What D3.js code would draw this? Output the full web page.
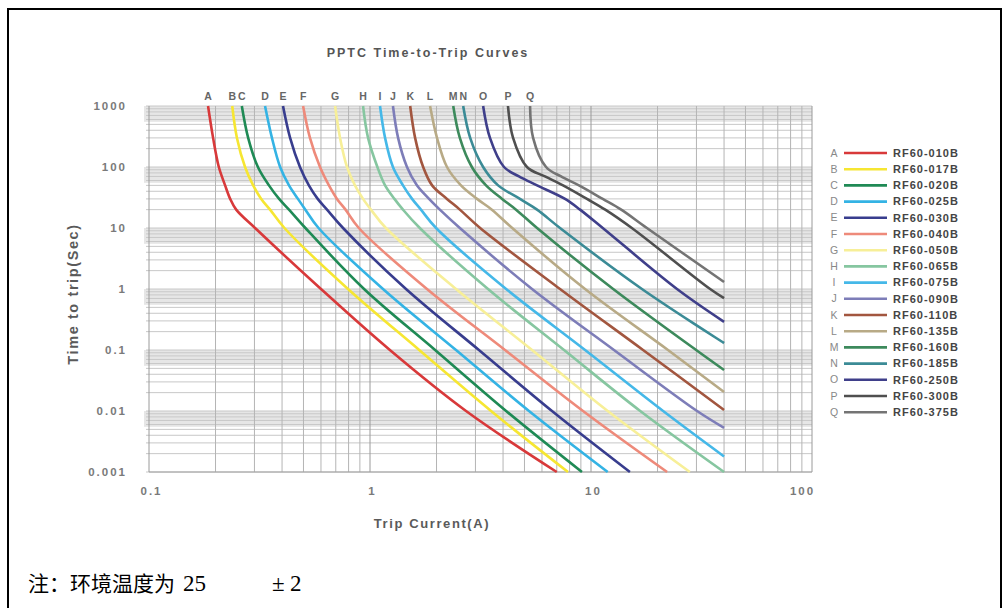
<!DOCTYPE html>
<html>
<head>
<meta charset="utf-8">
<script src="https://cdn.jsdelivr.net/npm/d3@7"></script>
<style>
  body { margin: 0; background: #fff; }
  svg text { font-family: "Liberation Sans", Arial, sans-serif; }
</style>
</head>
<body>
<div class="canvas"></div>
<script>
const svgWidth = 1005;
const svgHeight = 608;

// curve data: [current (A), time to trip (s)]
const curveA = [[0.185,1000],[0.195,300],[0.207,100],[0.221,50],[0.233,30],[0.248,20],[0.302,10],[0.60,1],[1.23,0.1],[2.72,0.01],[7.0,0.001]];
const curveB = [[0.238,1000],[0.25,300],[0.272,100],[0.296,50],[0.322,30],[0.353,20],[0.41,10],[0.795,1],[1.67,0.1],[3.53,0.01],[7.87,0.001]];
const curveC = [[0.263,1000],[0.281,300],[0.311,100],[0.349,50],[0.388,30],[0.43,20],[0.51,10],[0.94,1],[1.97,0.1],[4.13,0.01],[9.1,0.001]];
const curveD = [[0.335,1000],[0.36,300],[0.392,100],[0.43,50],[0.472,30],[0.51,20],[0.585,10],[1.145,1],[2.45,0.1],[5.24,0.01],[11.9,0.001]];
const curveE = [[0.404,1000],[0.435,300],[0.482,100],[0.529,50],[0.58,30],[0.639,20],[0.755,10],[1.455,1],[3.11,0.1],[6.66,0.01],[15.0,0.001]];
const curveF = [[0.498,1000],[0.535,300],[0.594,100],[0.652,50],[0.709,30],[0.775,20],[0.89,10],[1.81,1],[4.08,0.1],[9.2,0.01],[22.1,0.001]];
const curveG = [[0.695,1000],[0.732,300],[0.787,100],[0.855,50],[0.93,30],[1.01,20],[1.18,10],[2.45,1],[5.41,0.1],[11.9,0.01],[28.0,0.001]];
const curveH = [[0.93,1000],[0.98,300],[1.08,100],[1.17,50],[1.29,30],[1.41,20],[1.68,10],[3.42,1],[7.55,0.1],[16.7,0.01],[40,0.001]];
const curveI = [[1.11,1000],[1.17,300],[1.27,100],[1.41,50],[1.55,30],[1.7,20],[1.99,10],[4.13,1],[9.4,0.1],[21.2,0.01],[40,0.0018]];
const curveJ = [[1.27,1000],[1.34,300],[1.47,100],[1.63,50],[1.85,30],[2.07,20],[2.55,10],[5.41,1],[12.7,0.1],[30.2,0.01],[40,0.0053]];
const curveK = [[1.52,1000],[1.6,300],[1.74,100],[1.91,50],[2.23,30],[2.55,20],[3.15,10],[7.24,1],[17.2,0.1],[40,0.0104]];
const curveL = [[1.87,1000],[2.01,300],[2.23,100],[2.58,50],[3.05,30],[3.56,20],[4.4,10],[9.4,1],[22.3,0.1],[40,0.0205]];
const curveM = [[2.38,1000],[2.55,300],[2.89,100],[3.35,50],[3.96,30],[4.58,20],[5.7,10],[12.6,1],[29.9,0.1],[40,0.047]];
const curveN = [[2.64,1000],[2.84,300],[3.25,100],[3.8,50],[4.77,30],[5.7,20],[7.24,10],[17.0,1],[40,0.13]];
const curveO = [[3.25,1000],[3.49,300],[4.04,100],[4.72,70],[5.7,50],[7.63,30],[8.92,20],[11.3,10],[24.5,1],[40,0.29]];
const curveP = [[4.21,1000],[4.44,300],[5.13,100],[6.19,70],[7.47,50],[9.59,30],[11.6,20],[15.3,10],[34.6,1],[40,0.71]];
const curveQ = [[5.3,1000],[5.47,300],[6.26,100],[7.32,70],[8.82,50],[11.3,30],[13.7,20],[17.9,10],[40,1.3]];

const curves = [curveA, curveB, curveC, curveD, curveE, curveF, curveG, curveH, curveI,
                curveJ, curveK, curveL, curveM, curveN, curveO, curveP, curveQ];
const letters = ['A','B','C','D','E','F','G','H','I','J','K','L','M','N','O','P','Q'];
const models = ['RF60-010B','RF60-017B','RF60-020B','RF60-025B','RF60-030B','RF60-040B',
                'RF60-050B','RF60-065B','RF60-075B','RF60-090B','RF60-110B','RF60-135B',
                'RF60-160B','RF60-185B','RF60-250B','RF60-300B','RF60-375B'];
const colors = ['#d8393a','#f6e632','#1f8a55','#34b3e4','#383d8e','#ee8a7a','#f7ef98',
                '#86c6a0','#45b8e8','#7d7db8','#a2563f','#b8aa86','#3d8a5c','#3b8b96',
                '#3f3f8a','#4f4f4f','#747474'];

const xTicks = [0.1, 1, 10, 100];
const xTickLabels = ['0.1', '1', '10', '100'];
const yTicks = [1000, 100, 10, 1, 0.1, 0.01, 0.001];
const yTickLabels = ['1000', '100', '10', '1', '0.1', '0.01', '0.001'];

const svg = d3.select('.canvas')
    .append('svg')
        .attr('width', svgWidth)
        .attr('height', svgHeight);

// outer frame
svg.append('rect')
    .attr('x', 8).attr('y', 9).attr('width', 993).attr('height', 640)
    .attr('fill', 'none').attr('stroke', '#000').attr('stroke-width', 2);

const x = d3.scaleLog().domain([0.1, 100]).range([149, 812]);
const y = d3.scaleLog().domain([0.001, 1000]).range([472, 106]);

const plot = svg.append('g');

// grey bands below each decade line
const bandTops = [1000, 100, 10, 1, 0.1, 0.01];
plot.selectAll('.band')
    .data(bandTops)
    .enter().append('rect')
        .attr('class', 'band')
        .attr('x', x(0.1) - 5)
        .attr('y', d => y(d))
        .attr('width', x(100) - x(0.1) + 5)
        .attr('height', d => y(d * 0.55) - y(d))
        .attr('fill', '#e6e6e6');

// minor grid values
const xGrid = [];
[0.1, 1, 10].forEach(k => d3.range(1, 10).forEach(m => xGrid.push(m * k)));
xGrid.push(100);
const yGrid = [];
[0.001, 0.01, 0.1, 1, 10, 100].forEach(k => d3.range(1, 10).forEach(m => yGrid.push(m * k)));
yGrid.push(1000);

plot.selectAll('.hgrid')
    .data(yGrid)
    .enter().append('line')
        .attr('x1', x(0.1) - 3).attr('x2', x(100))
        .attr('y1', d => y(d)).attr('y2', d => y(d))
        .attr('stroke', '#c8c8c8').attr('stroke-width', 1);

plot.selectAll('.vgrid')
    .data(xGrid)
    .enter().append('line')
        .attr('x1', d => x(d)).attr('x2', d => x(d))
        .attr('y1', y(1000)).attr('y2', y(0.001))
        .attr('stroke', d => xTicks.includes(d) ? '#9a9a9a' : '#b4b4b4')
        .attr('stroke-width', 1);

plot.append('line')
    .attr('x1', x(0.1)).attr('x2', x(100))
    .attr('y1', y(0.001)).attr('y2', y(0.001))
    .attr('stroke', '#a0a0a0');

// curves
const line = d3.line()
    .x(d => x(d[0]))
    .y(d => y(d[1]))
    .curve(d3.curveCatmullRom.alpha(0.5));

plot.selectAll('.curve')
    .data(curves)
    .enter().append('path')
        .attr('fill', 'none')
        .attr('stroke', (d, i) => colors[i])
        .attr('stroke-width', 2.6)
        .attr('stroke-linejoin', 'round')
        .attr('d', line);

// letters above each curve
plot.selectAll('.letter')
    .data(curves)
    .enter().append('text')
        .attr('x', d => x(d[0][0]))
        .attr('y', 100)
        .attr('text-anchor', 'middle')
        .attr('font-size', 10.5)
        .attr('font-weight', 'bold')
        .attr('fill', '#666')
        .text((d, i) => letters[i]);

// axes (labels only)
const yAxis = d3.axisLeft(y)
    .tickValues(yTicks)
    .tickSize(0)
    .tickPadding(0)
    .tickFormat((d, i) => yTickLabels[i]);
const xAxis = d3.axisBottom(x)
    .tickValues(xTicks)
    .tickSize(0)
    .tickPadding(0)
    .tickFormat((d, i) => xTickLabels[i]);

const yAxisGroup = svg.append('g')
    .attr('transform', 'translate(127,0)')
    .call(yAxis);
const xAxisGroup = svg.append('g')
    .attr('transform', 'translate(0,487)')
    .call(xAxis);

[yAxisGroup, xAxisGroup].forEach(g => {
    g.select('.domain').remove();
    g.selectAll('text')
        .attr('font-family', '"Liberation Sans", Arial, sans-serif')
        .attr('font-size', 11.5)
        .attr('font-weight', 'bold')
        .attr('letter-spacing', 2)
        .attr('fill', '#7a7a7a');
});
xAxisGroup.selectAll('text').attr('dx', (d, i) => i == 3 ? -10 : 2);

// titles
svg.append('text')
    .attr('x', 428).attr('y', 57)
    .attr('text-anchor', 'middle')
    .attr('font-size', 12.5)
    .attr('font-weight', 'bold')
    .attr('letter-spacing', 2)
    .attr('fill', '#555')
    .text('PPTC Time-to-Trip Curves');

svg.append('text')
    .attr('x', 432).attr('y', 528)
    .attr('text-anchor', 'middle')
    .attr('font-size', 13)
    .attr('font-weight', 'bold')
    .attr('letter-spacing', 1.6)
    .attr('fill', '#5a5a5a')
    .text('Trip Current(A)');

svg.append('text')
    .attr('transform', 'translate(78,294) rotate(-90)')
    .attr('text-anchor', 'middle')
    .attr('font-size', 14.5)
    .attr('font-weight', 'bold')
    .attr('letter-spacing', 1.6)
    .attr('fill', '#5a5a5a')
    .text('Time to trip(Sec)');

// legend
const legend = svg.append('g');
const rows = legend.selectAll('g')
    .data(models)
    .enter().append('g')
        .attr('transform', (d, i) => `translate(0,${153 + i * 16.2})`);

rows.append('text')
    .attr('x', 834).attr('dy', '0.35em')
    .attr('text-anchor', 'middle')
    .attr('font-size', 10.5)
    .attr('fill', '#888')
    .text((d, i) => letters[i]);
rows.append('line')
    .attr('x1', 844).attr('x2', 887)
    .attr('stroke', (d, i) => colors[i])
    .attr('stroke-width', 2.6);
rows.append('text')
    .attr('x', 893).attr('dy', '0.35em')
    .attr('font-size', 11)
    .attr('font-weight', 'bold')
    .attr('letter-spacing', 1)
    .attr('fill', '#444')
    .text(d => d);

// footnote
const note = svg.append('text')
    .attr('y', 591)
    .attr('font-size', 21);
note.append('tspan')
    .attr('x', 28)
    .attr('font-family', '"Noto Sans CJK SC", sans-serif')
    .text('注：环境温度为');
note.append('tspan')
    .attr('x', 183)
    .attr('font-family', '"Liberation Serif", serif')
    .attr('font-size', 23)
    .text('25');
note.append('tspan')
    .attr('x', 272)
    .attr('font-family', '"Liberation Serif", serif')
    .attr('font-size', 23)
    .text('±');
note.append('tspan')
    .attr('x', 290)
    .attr('font-family', '"Liberation Serif", serif')
    .attr('font-size', 23)
    .text('2');
</script>
</body>
</html>
